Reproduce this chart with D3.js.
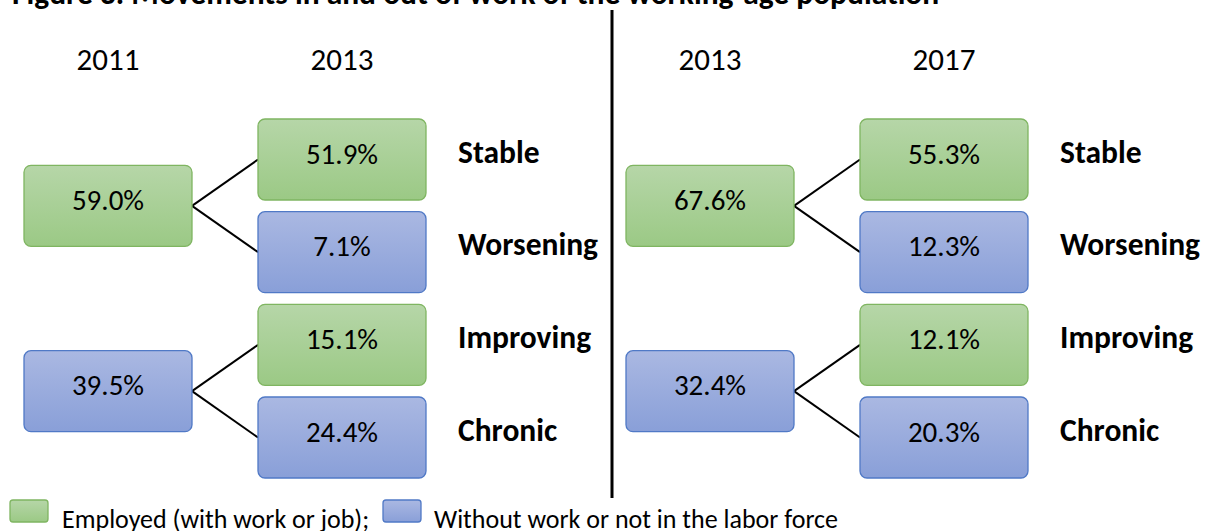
<!DOCTYPE html>
<html>
<head>
<meta charset="utf-8">
<script src="https://cdn.jsdelivr.net/npm/d3@7"></script>
<style>
  body { margin: 0; background: #fff; }
  svg { display: block; font-family: Carlito, Calibri, Lato, sans-serif; }
</style>
</head>
<body>
<div id="chart"></div>
<script>
// data
var title = "Figure 3. Movements in and out of work of the working-age population";
var panelYears = [["2011", "2013"], ["2013", "2017"]];
var sourceValues = [["59.0%", "39.5%"], ["67.6%", "32.4%"]];
var sourceTypes = ["employed", "without"];
var targetValues = [["51.9%", "7.1%", "15.1%", "24.4%"], ["55.3%", "12.3%", "12.1%", "20.3%"]];
var targetTypes = ["employed", "without", "employed", "without"];
var targetLabels = ["Stable", "Worsening", "Improving", "Chronic"];
var legendItems = [
    {type: "employed", text: "Employed (with work or job);"},
    {type: "without", text: "Without work or not in the labor force"}
];

var width = 1205, height = 531;
var boxW = 168, boxH = 81;

var svg = d3.select("#chart").append("svg")
    .attr("width", width)
    .attr("height", height);

var defs = svg.append("defs");
function grad(id, top, bottom) {
    var g = defs.append("linearGradient").attr("id", id)
        .attr("x1", 0).attr("y1", 0).attr("x2", 0).attr("y2", 1);
    g.append("stop").attr("offset", "0%").attr("stop-color", top);
    g.append("stop").attr("offset", "100%").attr("stop-color", bottom);
}
grad("g-employed", "#b6d6a8", "#9bc985");
grad("g-without", "#aab8e2", "#899fd8");
var fill = {employed: "url(#g-employed)", without: "url(#g-without)"};
var stroke = {employed: "#7fb561", without: "#5079c6"};

// scales
var panelX = d3.scaleLinear().domain([0, 1]).range([24, 626]);
var rowY = d3.scaleBand().domain([0, 1, 2, 3]).range([119, 478]).paddingInner(0.126);
var targetDx = 234, labelDx = 434;

// title (cut at top as in source)
svg.append("text")
    .attr("x", 12).attr("y", 4)
    .style("font-size", "31.5px").style("font-weight", "bold")
    .text(title);

// divider
svg.append("line")
    .attr("x1", 612).attr("x2", 612)
    .attr("y1", 10).attr("y2", 498)
    .attr("stroke", "#000").attr("stroke-width", 3);

panelYears.forEach(function(years, p) {
    var px = panelX(p);
    var g = svg.append("g");

    g.selectAll(".year").data(years).enter().append("text")
        .attr("class", "year")
        .attr("x", function(d, i) { return px + boxW / 2 + i * targetDx; })
        .attr("y", 70)
        .attr("text-anchor", "middle")
        .style("font-size", "31px")
        .text(function(d) { return d; });

    // links
    sourceValues[p].forEach(function(v, s) {
        var sy = (rowY(2 * s) + rowY(2 * s + 1) + boxH) / 2;
        [2 * s, 2 * s + 1].forEach(function(t) {
            g.append("line")
                .attr("x1", px + boxW).attr("y1", sy)
                .attr("x2", px + targetDx).attr("y2", rowY(t) + boxH / 2)
                .attr("stroke", "#000").attr("stroke-width", 2);
        });
    });

    // source boxes
    var src = g.selectAll(".src").data(sourceValues[p]).enter().append("g")
        .attr("transform", function(d, s) {
            var cy = (rowY(2 * s) + rowY(2 * s + 1) + boxH) / 2;
            return "translate(" + px + "," + (cy - boxH / 2) + ")";
        });
    src.append("rect")
        .attr("width", boxW).attr("height", boxH).attr("rx", 7)
        .attr("fill", function(d, s) { return fill[sourceTypes[s]]; })
        .attr("stroke", function(d, s) { return stroke[sourceTypes[s]]; })
        .attr("stroke-width", 1.3);
    src.append("text")
        .attr("x", boxW / 2).attr("y", boxH / 2 + 4)
        .attr("text-anchor", "middle")
        .style("font-size", "29px")
        .text(function(d) { return d; });

    // target boxes
    var tgt = g.selectAll(".tgt").data(targetValues[p]).enter().append("g")
        .attr("transform", function(d, t) { return "translate(" + (px + targetDx) + "," + rowY(t) + ")"; });
    tgt.append("rect")
        .attr("width", boxW).attr("height", boxH).attr("rx", 7)
        .attr("fill", function(d, t) { return fill[targetTypes[t]]; })
        .attr("stroke", function(d, t) { return stroke[targetTypes[t]]; })
        .attr("stroke-width", 1.3);
    tgt.append("text")
        .attr("x", boxW / 2).attr("y", boxH / 2 + 4)
        .attr("text-anchor", "middle")
        .style("font-size", "29px")
        .text(function(d) { return d; });
    tgt.append("text")
        .attr("x", labelDx - targetDx).attr("y", boxH / 2 + 3)
        .style("font-size", "31.5px").style("font-weight", "bold")
        .text(function(d, t) { return targetLabels[t]; });
});

// legend
var legX = [10, 383], legTextX = [62, 434];
var leg = svg.selectAll(".leg").data(legendItems).enter().append("g");
leg.append("rect")
    .attr("x", function(d, i) { return legX[i]; }).attr("y", 500)
    .attr("width", 38).attr("height", 22).attr("rx", 3)
    .attr("fill", function(d) { return fill[d.type]; })
    .attr("stroke", function(d) { return stroke[d.type]; })
    .attr("stroke-width", 1.3);
leg.append("text")
    .attr("x", function(d, i) { return legTextX[i]; }).attr("y", 528)
    .style("font-size", "26px")
    .text(function(d) { return d.text; });
</script>
</body>
</html>
